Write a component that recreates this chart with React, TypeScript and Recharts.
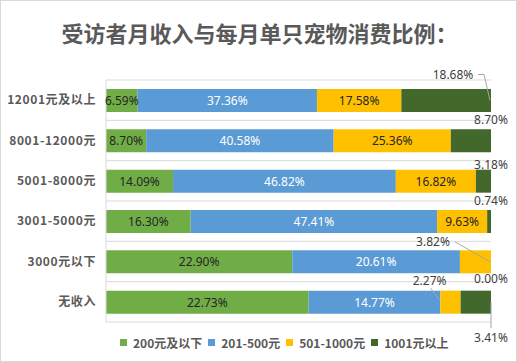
import { BarChart, Bar, XAxis, YAxis, CartesianGrid, Legend, LabelList } from 'recharts';

const CATEGORIES = ['12001元及以上', '8001-12000元', '5001-8000元', '3001-5000元', '3000元以下', '无收入'];
const SERIES_NAMES = ['200元及以下', '201-500元', '501-1000元', '1001元以上'];
const LOW = [6.59, 8.7, 14.09, 16.3, 22.9, 22.73];
const MID = [37.36, 40.58, 46.82, 47.41, 20.61, 14.77];
const HIGH = [17.58, 25.36, 16.82, 9.63, 3.82, 2.27];
const TOP = [18.68, 8.7, 3.18, 0.74, 0.0, 3.41];

const COLORS = ['#70ad47', '#5b9bd5', '#ffc000', '#43682b'];

const data = CATEGORIES.map((name, i) => ({ name, low: LOW[i], mid: MID[i], high: HIGH[i], top: TOP[i] }));

const FONT = '"Noto Sans CJK SC", "Noto Sans", sans-serif';
const LABEL_FONT = '"Noto Sans", "Noto Sans CJK SC", sans-serif';

// labels that Excel pushed outside the bar, offsets from the segment's right end / middle
type Place = { dx: number; dy: number; line?: number[][] };
const OUTSIDE: Record<string, Record<number, Place>> = {
  top: {
    0: { dx: -38, dy: -26, line: [[-13, -26], [-7, -26], [-1, 0]] },
    1: { dx: 0, dy: -21 },
    2: { dx: 0, dy: -17 },
    3: { dx: 0, dy: -21 },
    4: { dx: 0, dy: 17 },
    5: { dx: 0, dy: 35, line: [[0, 0], [0, 26]] },
  },
  high: {
    4: { dx: -58, dy: -20, line: [[-36, -20], [-1, 0]] },
    5: { dx: -31, dy: -22, line: [[-30, -14], [-21, -2]] },
  },
};

function outsideLabel(ax: number, ay: number, place: Place, text: string, key: string) {
  return (
    <g key={key}>
      {place.line && (
        <polyline points={place.line.map(p => `${ax + p[0]},${ay + p[1]}`).join(' ')} fill="none" stroke="#a6a6a6" strokeWidth={1} />
      )}
      <text x={ax + place.dx} y={ay + place.dy} textAnchor="middle" dominantBaseline="central" fill="#404040" fontSize={12} fontFamily={LABEL_FONT}>
        {text}
      </text>
    </g>
  );
}

function makeLabel(values: number[], key: string, color: string) {
  return (props: any) => {
    const x = Number(props.x);
    const y = Number(props.y);
    const width = Number(props.width);
    const height = Number(props.height);
    const index = props.index;
    const text = values[index].toFixed(2) + '%';
    const place = OUTSIDE[key]?.[index];
    const cy = y + height / 2;
    const main = place ? (
      outsideLabel(x + width, cy, place, text, 'm')
    ) : (
      <text key="m" x={x + width / 2} y={cy} textAnchor="middle" dominantBaseline="central" fill={color} fontSize={12} fontFamily={LABEL_FONT}>
        {text}
      </text>
    );
    if (key !== 'high') return main;
    // the last segment can be zero wide and then gets no label of its own, so it is labelled from here;
    // its right end follows from this segment's width in the same row
    const topEnd = x + width + (width * TOP[index]) / HIGH[index];
    return (
      <g>
        {main}
        {outsideLabel(topEnd, cy, OUTSIDE.top[index], TOP[index].toFixed(2) + '%', 't')}
      </g>
    );
  };
}

function renderLegend() {
  return (
    <div style={{ display: 'flex', alignItems: 'center', fontFamily: FONT, fontSize: 12, fontWeight: 700, color: '#595959', whiteSpace: 'nowrap' }}>
      {SERIES_NAMES.map((name, i) => (
        <div key={name} style={{ display: 'flex', alignItems: 'center', marginRight: 6 }}>
          <span style={{ width: 7, height: 7, background: COLORS[i], display: 'inline-block', marginRight: 6 }} />
          <span>{name}</span>
        </div>
      ))}
    </div>
  );
}

export default function App() {
  return (
    <div style={{ position: 'absolute', left: 0, top: 0, width: 517, height: 362, border: '1px solid #d9d9d9', boxSizing: 'border-box', background: '#fff' }}>
      <div style={{ position: 'absolute', top: 17, left: 0, width: 517, textAlign: 'center', fontFamily: FONT, fontSize: 22, fontWeight: 700, color: '#595959', lineHeight: '28px' }}>
        受访者月收入与每月单只宠物消费比例：
      </div>
      <div style={{ position: 'absolute', left: -1, top: -1 }}>
        <BarChart width={517} height={362} data={data} layout="vertical" stackOffset="expand" barSize={23} margin={{ top: 80, right: 26, left: 0, bottom: 20 }}>
          <CartesianGrid
            vertical={false}
            stroke="#d9d9d9"
            horizontalCoordinatesGenerator={({ offset }: any) =>
              CATEGORIES.map((_, i) => offset.top + (i * offset.height) / CATEGORIES.length).concat(offset.top + offset.height)
            }
          />
          <XAxis type="number" hide />
          <YAxis
            type="category"
            dataKey="name"
            width={106}
            axisLine={{ stroke: '#d9d9d9' }}
            tickLine={false}
            tickMargin={4}
            tick={{ fill: '#595959', fontSize: 12, fontWeight: 700, fontFamily: FONT, letterSpacing: 0.6 }}
          />
          <Legend height={20} wrapperStyle={{ top: 334, left: 120, width: 'auto' }} content={renderLegend} />
          <Bar dataKey="low" name={SERIES_NAMES[0]} stackId="a" fill={COLORS[0]} isAnimationActive={false}>
            <LabelList dataKey="low" content={makeLabel(LOW, 'low', '#262626')} />
          </Bar>
          <Bar dataKey="mid" name={SERIES_NAMES[1]} stackId="a" fill={COLORS[1]} isAnimationActive={false}>
            <LabelList dataKey="mid" content={makeLabel(MID, 'mid', '#ffffff')} />
          </Bar>
          <Bar dataKey="high" name={SERIES_NAMES[2]} stackId="a" fill={COLORS[2]} isAnimationActive={false}>
            <LabelList dataKey="high" content={makeLabel(HIGH, 'high', '#262626')} />
          </Bar>
          <Bar dataKey="top" name={SERIES_NAMES[3]} stackId="a" fill={COLORS[3]} isAnimationActive={false} />
        </BarChart>
      </div>
    </div>
  );
}
